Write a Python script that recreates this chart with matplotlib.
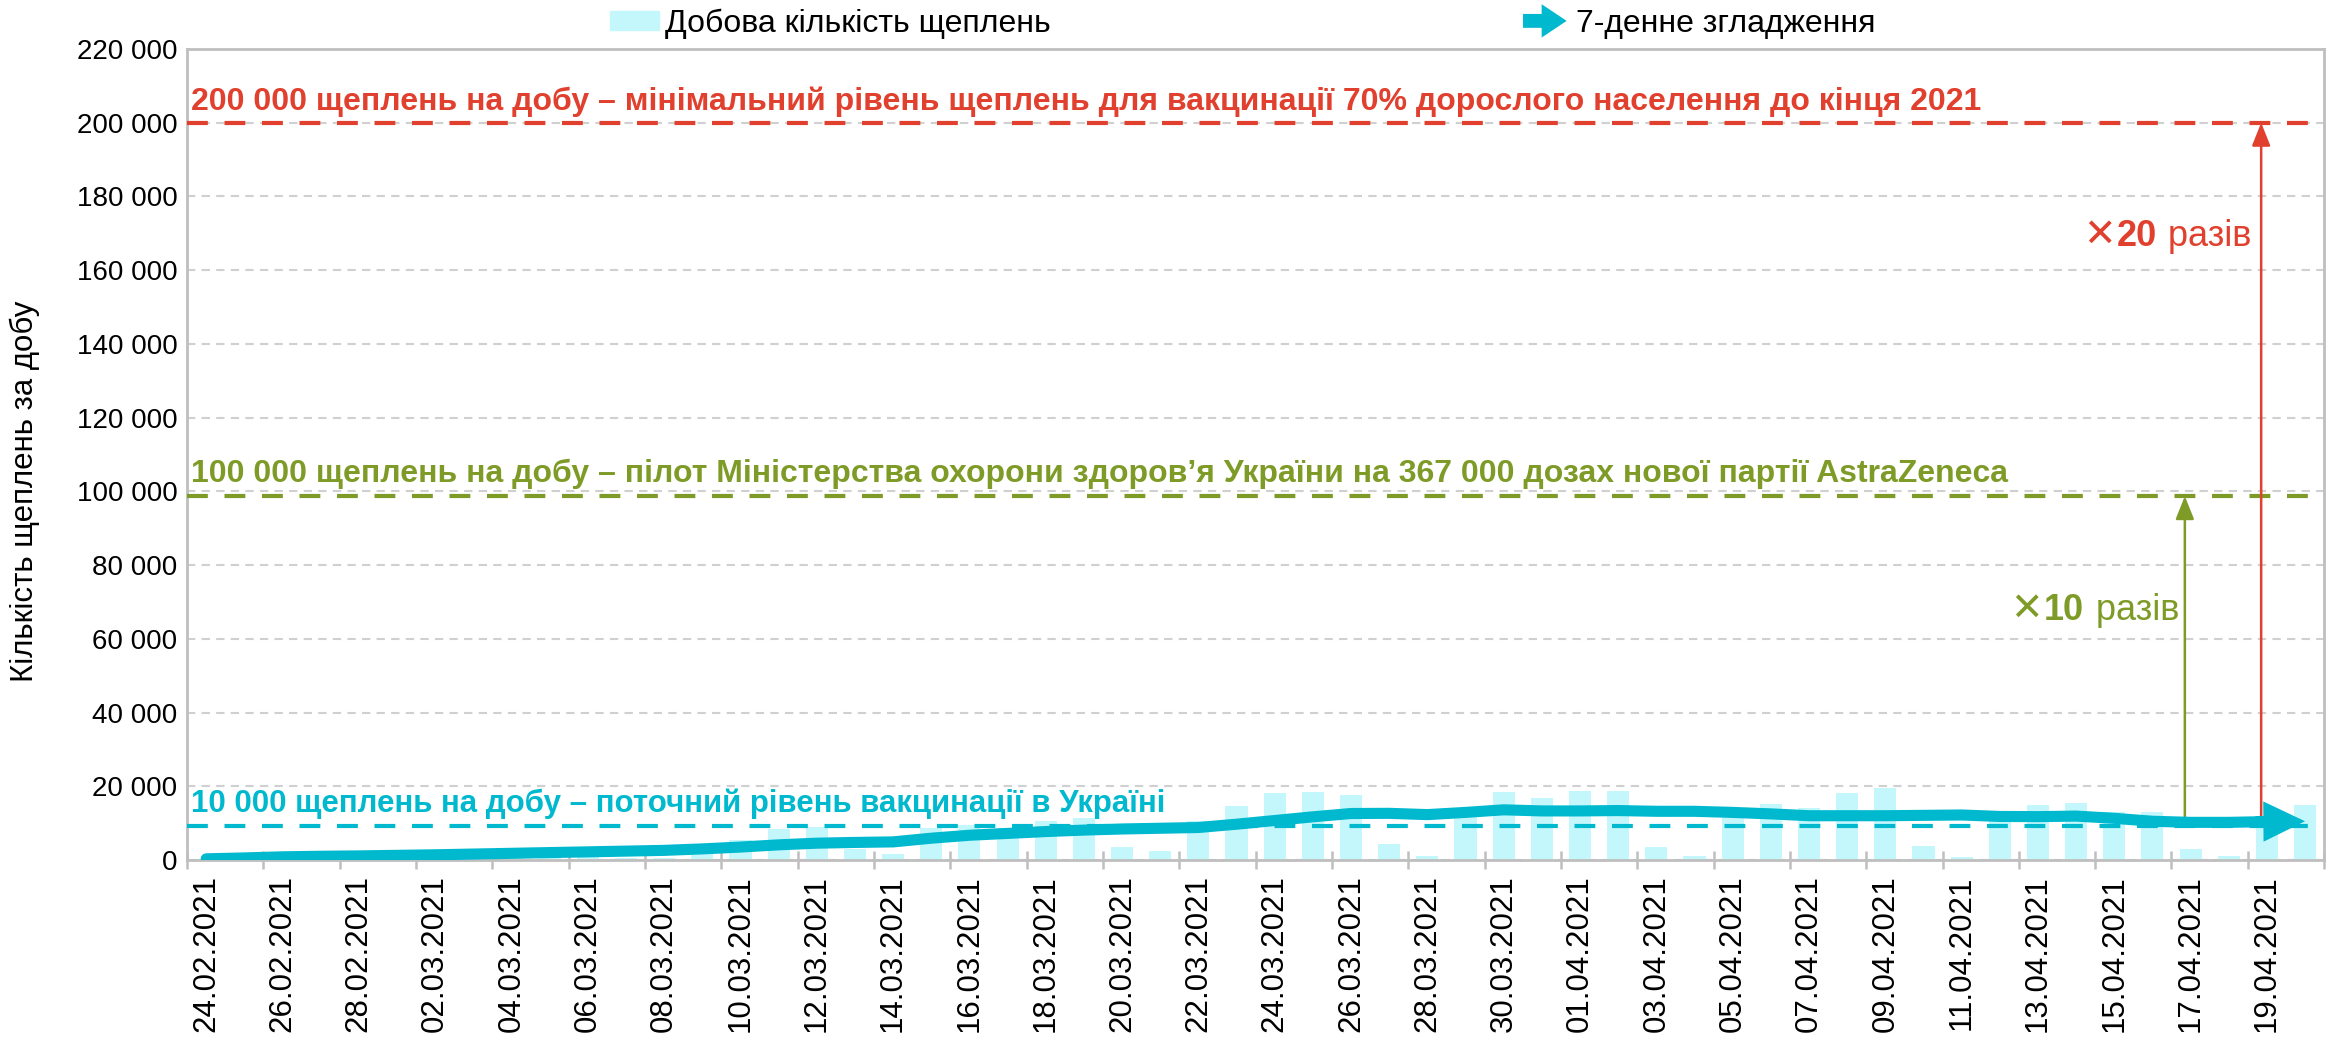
import numpy as np
import matplotlib

matplotlib.use("Agg")
import matplotlib.pyplot as plt
import matplotlib.patches as mpatches
from matplotlib.legend_handler import HandlerBase
from matplotlib.offsetbox import TextArea, HPacker, AnnotationBbox

plt.rcParams["font.family"] = ["Liberation Sans", "DejaVu Sans"]

# daily dates 24.02.2021 .. 20.04.2021
dates = (
    ["24.02", "25.02", "26.02", "27.02", "28.02"]
    + ["%02d.03" % d for d in range(1, 32)]
    + ["%02d.04" % d for d in range(1, 21)]
)
dates = [d + ".2021" for d in dates]

daily = [160, 1100, 1600, 1000, 200, 2000, 2600, 2700, 2900, 3000,
         1500, 500, 400, 4000, 5460, 8370, 8900, 2900, 1550, 8550,
         9460, 8550, 10700, 11270, 3550, 2360, 10550, 14700, 18200, 18450,
         17700, 4200, 1100, 12500, 18450, 16800, 18700, 18600, 3640, 1000,
         12000, 15270, 14000, 18200, 19550, 3730, 730, 12000, 15000, 15550,
         13100, 12900, 3100, 1200, 11500, 14800]

smooth = [300, 550, 850, 1000, 1100, 1250, 1400, 1600, 1800, 2000,
          2200, 2400, 2600, 3000, 3500, 4100, 4550, 4750, 4900, 5900,
          6700, 7200, 7700, 8100, 8400, 8600, 8800, 9700, 10700, 11700,
          12600, 12650, 12300, 12900, 13600, 13300, 13300, 13400, 13200, 13200,
          12900, 12500, 12000, 12000, 12000, 12100, 12200, 11800, 11750, 11900,
          11300, 10500, 10200, 10200, 10400, 10500]

red_level = 200000
green_level = 98700
cyan_level = 9300

red_text = "200 000 щеплень на добу – мінімальний рівень щеплень для вакцинації 70% дорослого населення до кінця 2021"
green_text = "100 000 щеплень на добу – пілот Міністерства охорони здоров’я України на 367 000 дозах нової партії AstraZeneca"
cyan_text = "10 000 щеплень на добу – поточний рівень вакцинації в Україні"

RED = "#E0402D"
GREEN = "#7F9B27"
CYAN = "#00B9CE"
BAR = "#C4F7FC"
GRAY = "#BFBFBF"

x = np.arange(len(dates))

fig = plt.figure(figsize=(23.33, 10.43), dpi=100)
ax = fig.add_axes([0.0802, 0.1755, 0.916, 0.7775])

ax.bar(x, daily, width=0.58, color=BAR, zorder=2)

for lvl, col in [(red_level, RED), (green_level, GREEN), (cyan_level, CYAN)]:
    ax.axhline(lvl, color=col, lw=3, dashes=(5, 4), zorder=3)

ax.plot(x[:-1], smooth[:-1], color=CYAN, lw=8, solid_capstyle="round",
        solid_joinstyle="round", zorder=5)
ax.annotate("", xy=(x[-1], smooth[-1]), xytext=(x[-2] - 0.3, smooth[-2]),
            arrowprops=dict(arrowstyle="simple,head_length=1.5,head_width=1.45,tail_width=0.4",
                            mutation_scale=20, color=CYAN, lw=0, shrinkA=0, shrinkB=0),
            zorder=5)

# vertical arrows
for xa, top, col in [(51.85, green_level, GREEN), (53.85, red_level, RED)]:
    ax.annotate("", xy=(xa, top), xytext=(xa, cyan_level),
                arrowprops=dict(arrowstyle="-|>,head_length=0.7,head_width=0.28",
                                mutation_scale=20, color=col, lw=1.8,
                                shrinkA=0, shrinkB=0), zorder=4)

# level texts
ax.text(-0.4, 203500, red_text, color=RED, fontsize=23, fontweight="bold",
        ha="left", va="baseline", zorder=6)
ax.text(-0.4, 102600, green_text, color=GREEN, fontsize=23, fontweight="bold",
        ha="left", va="baseline", zorder=6)
ax.text(-0.4, 13000, cyan_text, color=CYAN, fontsize=22.5, fontweight="bold",
        ha="left", va="baseline", zorder=6)


def times_label(num, col, xa, ya):
    box = HPacker(children=[
        TextArea("✕", textprops=dict(color=col, fontsize=28, family="DejaVu Sans")),
        TextArea(num, textprops=dict(color=col, fontsize=26, fontweight="bold")),
        TextArea(" разів", textprops=dict(color=col, fontsize=26)),
    ], align="baseline", pad=0, sep=1)
    ab = AnnotationBbox(box, (xa, ya), box_alignment=(1, 0.5), frameon=False, pad=0)
    ax.add_artist(ab)


times_label("20", RED, 53.6, 169600)
times_label("10", GREEN, 51.7, 68000)

ax.set_xlim(-0.5, len(dates) - 0.5)
ax.set_ylim(0, 220000)
yt = np.arange(0, 220001, 20000)
ax.set_yticks(yt)
ax.set_yticklabels(["{:,}".format(v).replace(",", " ") for v in yt], fontsize=20)
ax.tick_params(axis="y", length=0, pad=7)

ax.set_xticks(x[::2])
ax.set_xticklabels(dates[::2], rotation=90, fontsize=22.5)
ax.set_xticks(np.arange(-0.5, len(dates), 2), minor=True)
ax.tick_params(axis="x", which="major", length=0, pad=11)
ax.tick_params(axis="x", which="minor", direction="inout", length=13, width=1.8, color=GRAY)

ax.yaxis.grid(True, color="#D0D0D0", lw=1.5, dashes=(4, 3))
ax.set_axisbelow(True)
for s in ax.spines.values():
    s.set_color(GRAY)
    s.set_linewidth(2)

ax.set_ylabel("Кількість щеплень за добу", fontsize=22.5)
ax.yaxis.set_label_coords(-0.0688, 0.455)


class ArrowHandler(HandlerBase):
    def create_artists(self, legend, orig_handle, xdescent, ydescent, width, height,
                       fontsize, trans):
        y = height / 2 - ydescent
        arr = mpatches.FancyArrowPatch(
            (-xdescent, y), (-xdescent + width, y),
            arrowstyle="simple,head_length=0.9,head_width=1.2,tail_width=0.5",
            mutation_scale=20, color=CYAN, lw=0, transform=trans)
        return [arr]


bar_handle = mpatches.Patch(color=BAR)
arrow_handle = mpatches.Patch(color=CYAN)
fig.legend([bar_handle, arrow_handle], ["Добова кількість щеплень", "7-денне згладження"],
           loc="center", bbox_to_anchor=(0.5325, 0.977), ncol=2, frameon=False,
           fontsize=23, handlelength=1.54, handleheight=0.55, handletextpad=0.19,
           columnspacing=14.7, handler_map={arrow_handle: ArrowHandler()})

fig.savefig("out.png", dpi=100)
